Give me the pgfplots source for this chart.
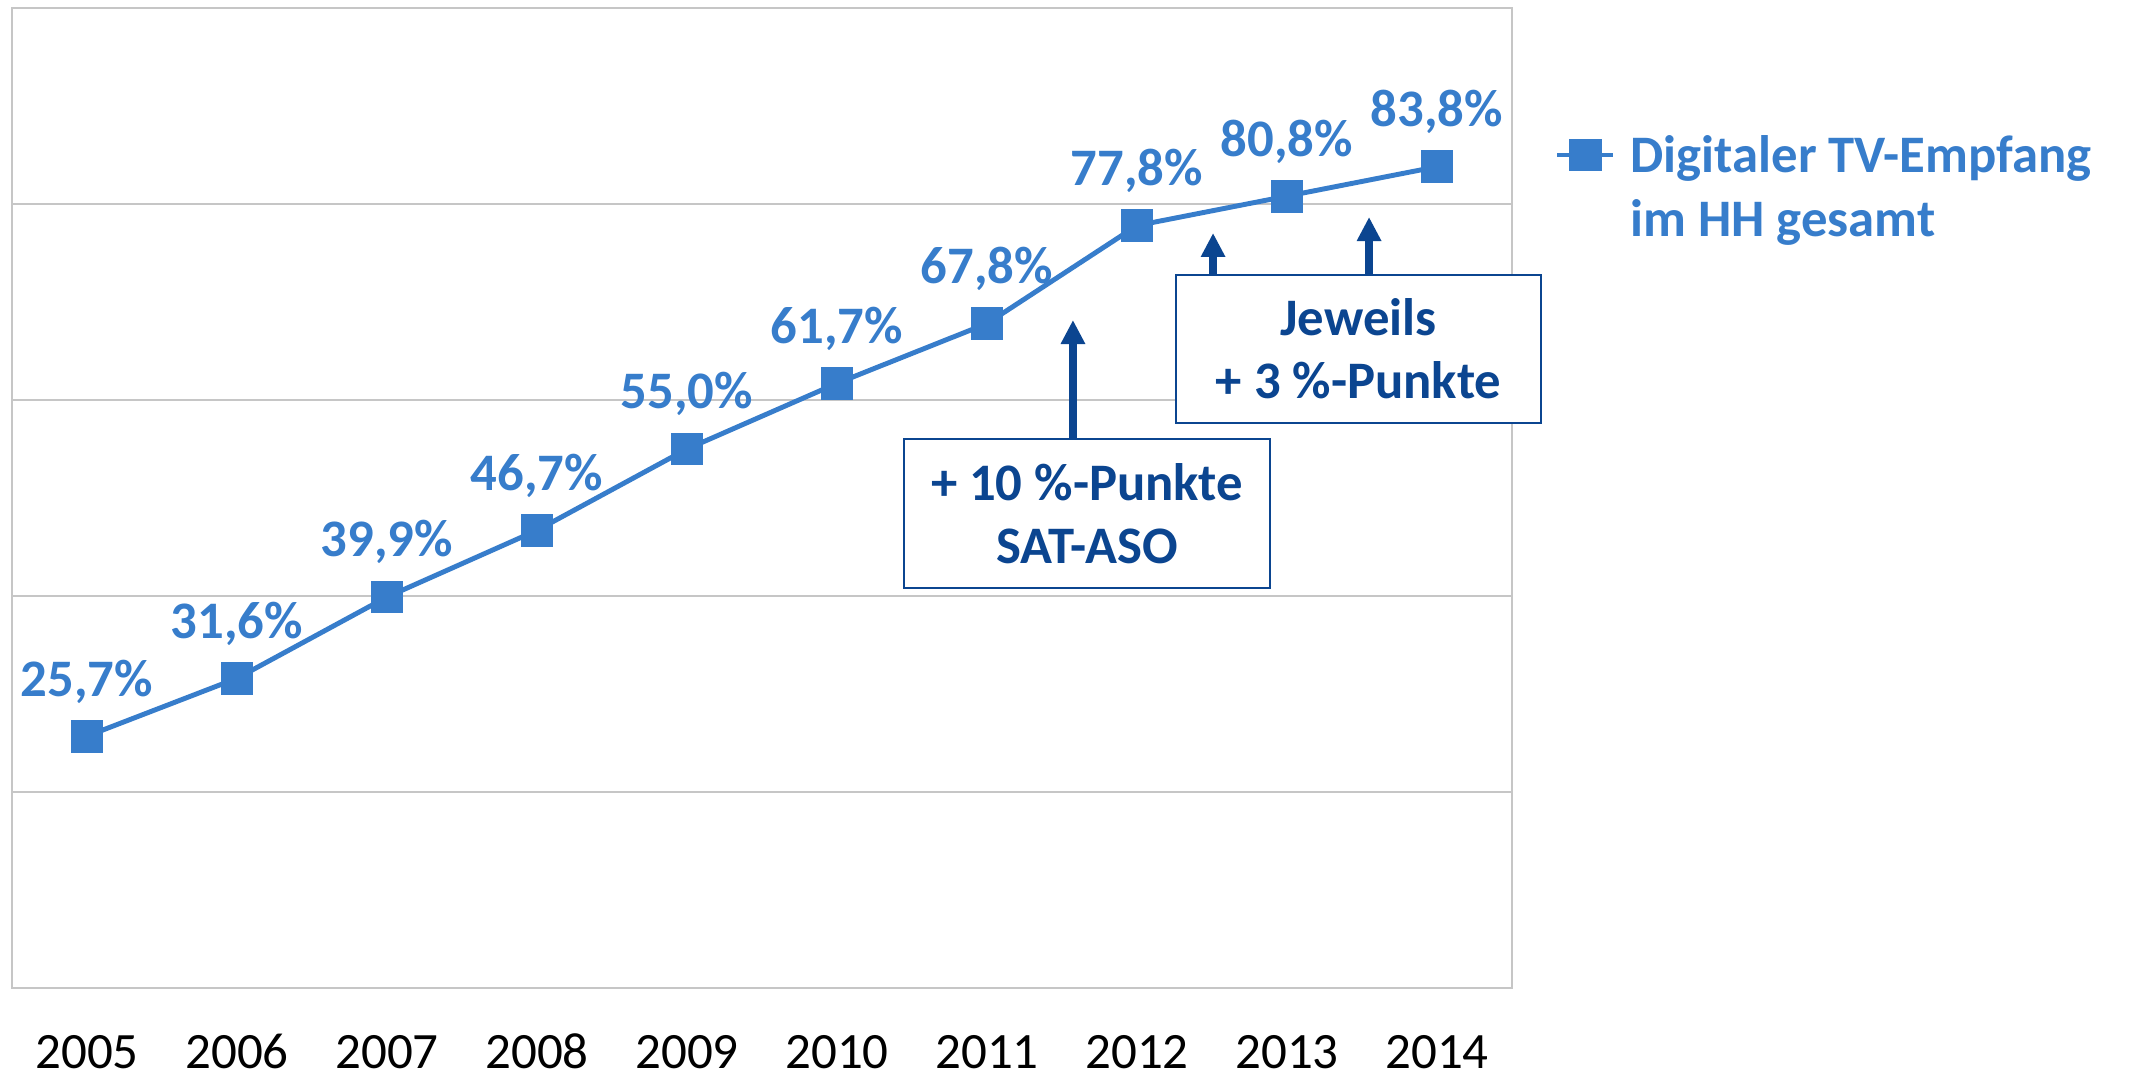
\documentclass[border=0pt]{standalone}
\usepackage{fontspec}
\setmainfont{Carlito}
\usepackage{pgfplots}
\pgfplotsset{compat=1.18}
\usetikzlibrary{arrows.meta}

\definecolor{serieblue}{HTML}{377DCB}
\definecolor{notblue}{HTML}{0B4590}
\definecolor{gridgray}{HTML}{C6C6C6}

\pgfkeys{/pgf/number format/assume math mode=true}

\begin{document}
\begin{tikzpicture}
\begin{axis}[
    scale only axis,
    width=15cm, height=9.8cm,
    xmin=-0.5, xmax=9.5,
    ymin=0, ymax=100,
    clip=false,
    axis line style={draw=gridgray, line width=0.7pt},
    xtick={0,...,9},
    xticklabels={2005,2006,2007,2008,2009,2010,2011,2012,2013,2014},
    xticklabel style={anchor=base, yshift=-0.81cm, inner sep=0pt, outer sep=0pt,
        font=\fontsize{14.5}{17}\selectfont, text=black},
    ytick={0,20,...,100},
    yticklabels={},
    yticklabel style={inner sep=0pt, outer sep=0pt},
    major tick length=0pt,
    ymajorgrids,
    major grid style={draw=gridgray, line width=0.6pt},
    legend style={
        at={(rel axis cs:1,1)}, anchor=north west,
        xshift=0.42cm, yshift=-1.13cm,
        draw=none, fill=none, inner sep=0pt,
        column sep=0.08cm,
        cells={anchor=base west, inner sep=0pt},
        font=\fontsize{15}{18}\selectfont\bfseries,
        text=serieblue,
    },
    legend image code/.code={
        \draw[mark repeat=2, mark phase=2] plot coordinates {(0cm,0cm) (0.28cm,0cm) (0.56cm,0cm)};
    },
]
\addplot[
    serieblue, line width=1.4pt,
    mark=square*, mark size=0.14cm, mark options={solid, fill=serieblue, draw=serieblue},
    nodes near coords={\pgfmathprintnumber[fixed, fixed zerofill, precision=1, use comma]{\pgfplotspointmeta}\%},
    every node near coord/.style={anchor=base, yshift=0.40cm, inner sep=0pt,
        font=\fontsize{15}{18}\selectfont\bfseries, text=serieblue},
] coordinates {
    (0,25.7) (1,31.6) (2,39.9) (3,46.7) (4,55.0)
    (5,61.7) (6,67.8) (7,77.8) (8,80.8) (9,83.8)
};
\addlegendentry{\raisebox{-0.18cm}{\begin{tabular}[t]{@{}l@{}}Digitaler TV-Empfang\\im HH gesamt\end{tabular}}}

% annotation boxes and arrows
\draw[notblue, line width=0.08cm, -{Triangle[width=0.23cm, length=0.24cm]}]
    (axis cs:6.573,56.0) -- (axis cs:6.573,68.16);
\draw[notblue, line width=0.08cm, -{Triangle[width=0.23cm, length=0.24cm]}]
    (axis cs:7.507,72.8) -- (axis cs:7.507,77.04);
\draw[notblue, line width=0.08cm, -{Triangle[width=0.23cm, length=0.24cm]}]
    (axis cs:8.547,72.8) -- (axis cs:8.547,78.67);
\node[draw=notblue, line width=0.6pt, fill=white, minimum width=3.66cm, minimum height=1.49cm,
      align=center, text=notblue, font=\fontsize{15}{18}\selectfont\bfseries]
    at (axis cs:6.667,48.42) {+ 10 \%-Punkte\\SAT-ASO};
\node[draw=notblue, line width=0.6pt, fill=white, minimum width=3.65cm, minimum height=1.48cm,
      align=center, text=notblue, font=\fontsize{15}{18}\selectfont\bfseries]
    at (axis cs:8.477,65.2) {Jeweils\\+ 3 \%-Punkte};
\end{axis}
\path ([xshift=-0.12cm, yshift=-0.90cm]current axis.south west)
    rectangle ([xshift=6.17cm, yshift=0.08cm]current axis.north east);
\end{tikzpicture}
\end{document}
